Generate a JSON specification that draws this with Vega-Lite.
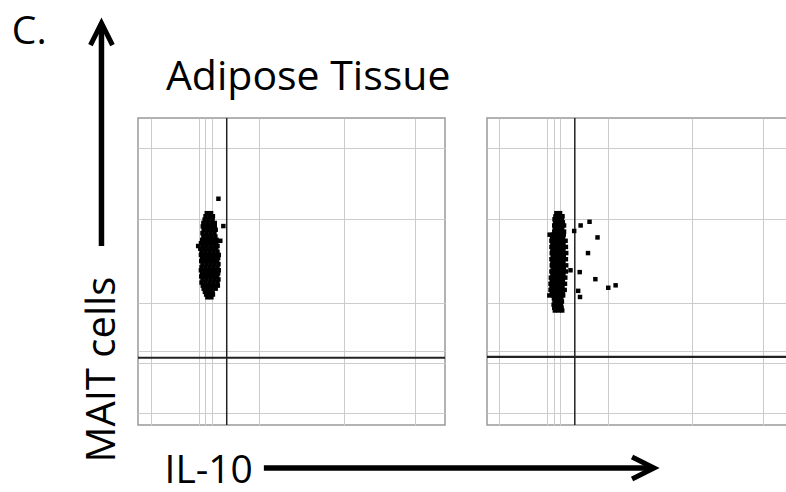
{
  "$schema": "https://vega.github.io/schema/vega-lite/v6.json",
  "background": "white",
  "padding": {"left": 11, "top": 12, "right": 0, "bottom": 3},
  "config": {
    "view": {"stroke": "#999999", "strokeWidth": 1.5},
    "font": "Open Sans",
    "axis": {"gridColor": "#cccccc", "gridWidth": 1, "gridOpacity": 1, "labels": false, "ticks": false, "domain": false, "titleFont": "Open Sans", "titleFontSize": 40, "titleFontWeight": "normal", "titleColor": "black"}
  },
  "datasets": {
    "left": [
      {"x":224,"y":690},{"x":238,"y":690},
      {"x":220,"y":680},{"x":233,"y":680},{"x":244,"y":680},
      {"x":217,"y":669},{"x":230,"y":669},{"x":243,"y":669},
      {"x":213,"y":658},{"x":226,"y":658},{"x":239,"y":658},{"x":250,"y":658},
      {"x":211,"y":647},{"x":224,"y":647},{"x":237,"y":647},{"x":250,"y":647},
      {"x":214,"y":636},{"x":227,"y":636},{"x":240,"y":636},{"x":253,"y":636},
      {"x":210,"y":625},{"x":223,"y":625},{"x":236,"y":625},{"x":249,"y":625},
      {"x":213,"y":614},{"x":226,"y":614},{"x":239,"y":614},{"x":252,"y":614},
      {"x":209,"y":603},{"x":222,"y":603},{"x":235,"y":603},{"x":248,"y":603},{"x":256,"y":603},
      {"x":205,"y":592},{"x":218,"y":592},{"x":231,"y":592},{"x":244,"y":592},{"x":255,"y":592},
      {"x":196,"y":583},{"x":210,"y":583},{"x":223,"y":583},{"x":236,"y":583},{"x":249,"y":583},{"x":259,"y":583},
      {"x":203,"y":574},{"x":216,"y":574},{"x":229,"y":574},{"x":242,"y":574},{"x":255,"y":574},
      {"x":207,"y":564},{"x":220,"y":564},{"x":233,"y":564},{"x":246,"y":564},{"x":259,"y":564},
      {"x":205,"y":554},{"x":218,"y":554},{"x":231,"y":554},{"x":244,"y":554},{"x":257,"y":554},{"x":263,"y":554},
      {"x":209,"y":544},{"x":222,"y":544},{"x":235,"y":544},{"x":248,"y":544},{"x":261,"y":544},
      {"x":206,"y":534},{"x":219,"y":534},{"x":232,"y":534},{"x":245,"y":534},{"x":258,"y":534},
      {"x":210,"y":524},{"x":223,"y":524},{"x":236,"y":524},{"x":249,"y":524},{"x":262,"y":524},
      {"x":207,"y":514},{"x":220,"y":514},{"x":233,"y":514},{"x":246,"y":514},{"x":259,"y":514},
      {"x":205,"y":504},{"x":218,"y":504},{"x":231,"y":504},{"x":244,"y":504},{"x":257,"y":504},{"x":263,"y":504},
      {"x":209,"y":494},{"x":222,"y":494},{"x":235,"y":494},{"x":248,"y":494},{"x":261,"y":494},
      {"x":206,"y":484},{"x":219,"y":484},{"x":232,"y":484},{"x":245,"y":484},{"x":258,"y":484},
      {"x":210,"y":474},{"x":223,"y":474},{"x":236,"y":474},{"x":249,"y":474},{"x":262,"y":474},
      {"x":207,"y":464},{"x":220,"y":464},{"x":233,"y":464},{"x":246,"y":464},{"x":259,"y":464},
      {"x":211,"y":454},{"x":224,"y":454},{"x":237,"y":454},{"x":250,"y":454},{"x":260,"y":454},
      {"x":214,"y":444},{"x":227,"y":444},{"x":240,"y":444},{"x":253,"y":444},
      {"x":218,"y":434},{"x":231,"y":434},{"x":243,"y":434},
      {"x":222,"y":425},{"x":235,"y":425},{"x":244,"y":425},
      {"x":226,"y":416},{"x":239,"y":416},
      {"x":262,"y":737},{"x":278,"y":648},{"x":268,"y":600}
    ],
    "right": [
      {"x":226,"y":690},{"x":238,"y":690},
      {"x":223,"y":680},{"x":235,"y":680},{"x":246,"y":680},
      {"x":220,"y":670},{"x":232,"y":670},{"x":244,"y":670},
      {"x":222,"y":660},{"x":234,"y":660},{"x":247,"y":660},
      {"x":219,"y":650},{"x":231,"y":650},{"x":243,"y":650},{"x":251,"y":650},
      {"x":221,"y":640},{"x":233,"y":640},{"x":245,"y":640},
      {"x":219,"y":630},{"x":231,"y":630},{"x":243,"y":630},{"x":251,"y":630},
      {"x":204,"y":620},{"x":215,"y":620},{"x":227,"y":620},{"x":239,"y":620},{"x":250,"y":620},
      {"x":212,"y":610},{"x":224,"y":610},{"x":236,"y":610},{"x":248,"y":610},
      {"x":210,"y":600},{"x":222,"y":600},{"x":234,"y":600},{"x":246,"y":600},{"x":256,"y":600},
      {"x":213,"y":590},{"x":225,"y":590},{"x":237,"y":590},{"x":249,"y":590},
      {"x":210,"y":580},{"x":222,"y":580},{"x":234,"y":580},{"x":246,"y":580},{"x":257,"y":580},
      {"x":213,"y":570},{"x":225,"y":570},{"x":237,"y":570},{"x":249,"y":570},
      {"x":211,"y":560},{"x":223,"y":560},{"x":235,"y":560},{"x":247,"y":560},{"x":258,"y":560},
      {"x":214,"y":550},{"x":226,"y":550},{"x":238,"y":550},{"x":250,"y":550},
      {"x":210,"y":540},{"x":222,"y":540},{"x":234,"y":540},{"x":246,"y":540},{"x":257,"y":540},
      {"x":213,"y":530},{"x":225,"y":530},{"x":237,"y":530},{"x":249,"y":530},
      {"x":211,"y":520},{"x":223,"y":520},{"x":235,"y":520},{"x":247,"y":520},{"x":258,"y":520},
      {"x":214,"y":510},{"x":226,"y":510},{"x":238,"y":510},{"x":250,"y":510},
      {"x":210,"y":500},{"x":222,"y":500},{"x":234,"y":500},{"x":246,"y":500},{"x":257,"y":500},
      {"x":213,"y":490},{"x":225,"y":490},{"x":237,"y":490},{"x":249,"y":490},
      {"x":208,"y":480},{"x":220,"y":480},{"x":232,"y":480},{"x":244,"y":480},{"x":255,"y":480},
      {"x":211,"y":470},{"x":223,"y":470},{"x":235,"y":470},{"x":247,"y":470},
      {"x":207,"y":460},{"x":219,"y":460},{"x":231,"y":460},{"x":243,"y":460},{"x":254,"y":460},
      {"x":210,"y":450},{"x":222,"y":450},{"x":234,"y":450},{"x":246,"y":450},
      {"x":207,"y":440},{"x":219,"y":440},{"x":231,"y":440},{"x":243,"y":440},{"x":253,"y":440},
      {"x":211,"y":430},{"x":223,"y":430},{"x":235,"y":430},{"x":247,"y":430},
      {"x":203,"y":422},{"x":215,"y":422},{"x":227,"y":422},{"x":239,"y":422},{"x":248,"y":422},
      {"x":218,"y":412},{"x":230,"y":412},{"x":242,"y":412},
      {"x":220,"y":402},{"x":232,"y":402},{"x":244,"y":402},
      {"x":217,"y":392},{"x":229,"y":392},{"x":241,"y":392},
      {"x":219,"y":382},{"x":231,"y":382},{"x":243,"y":382},
      {"x":221,"y":373},{"x":233,"y":373},{"x":245,"y":373},
      {"x":305,"y":650},{"x":334,"y":662},{"x":284,"y":632},{"x":360,"y":611},
      {"x":329,"y":560},{"x":302,"y":498},{"x":353,"y":475},{"x":395,"y":447},
      {"x":419,"y":455},{"x":297,"y":437},{"x":303,"y":417},{"x":272,"y":504}
    ]
  },
  "bounds": "flush",
  "spacing": 42,
  "hconcat": [
    {
      "width": 307,
      "height": 307,
      "layer": [
        {
          "data": {"values": [{}]},
          "mark": {"type": "rule", "color": "#222222", "strokeWidth": 1.5},
          "encoding": {"x": {"datum": 289, "type": "quantitative"}}
        },
        {
          "data": {"values": [{}]},
          "mark": {"type": "rule", "color": "#222222", "strokeWidth": 2.2},
          "encoding": {"y": {"datum": 219, "type": "quantitative"}}
        },
        {
          "data": {"name": "left"},
          "mark": {"type": "square", "size": 20, "color": "black", "opacity": 1},
          "encoding": {
            "x": {"field": "x", "type": "quantitative", "scale": {"domain": [0, 1000], "nice": false, "zero": false},
                  "axis": {"values": [42, 199, 218, 241, 394, 670, 901], "grid": true, "title": "IL-10", "titleAngle": 0, "titleAlign": "left", "titleBaseline": "alphabetic", "titleX": 26, "titleY": 57, "titleFontSize": 39}},
            "y": {"field": "y", "type": "quantitative", "scale": {"domain": [0, 1000], "nice": false, "zero": false},
                  "axis": {"values": [40, 203, 241, 398, 672, 903], "grid": true, "title": "MAIT cells", "titleAngle": 270, "titleAlign": "left", "titleBaseline": "alphabetic", "titleX": -24, "titleY": 344}}
          }
        },
        {
          "data": {"values": [{}]},
          "mark": {"type": "rule", "color": "black", "strokeWidth": 5.5},
          "encoding": {"x": {"datum": -119, "type": "quantitative"}, "y": {"datum": 583, "type": "quantitative"}, "y2": {"datum": 1300}}
        },
        {
          "data": {"values": [{}]},
          "mark": {"type": "point", "shape": "M-1,2L0,0L1,2", "size": 484, "filled": false, "color": "black", "strokeWidth": 5, "opacity": 1, "strokeJoin": "miter"},
          "encoding": {"x": {"datum": -119, "type": "quantitative"}, "y": {"datum": 1309, "type": "quantitative"}}
        },
        {
          "data": {"values": [{}]},
          "mark": {"type": "rule", "color": "black", "strokeWidth": 5.5},
          "encoding": {"x": {"datum": 410, "type": "quantitative"}, "x2": {"datum": 1675}, "y": {"datum": -140, "type": "quantitative"}}
        },
        {
          "data": {"values": [{}]},
          "mark": {"type": "point", "shape": "M-2,-1L0,0L-2,1", "size": 484, "filled": false, "color": "black", "strokeWidth": 5, "opacity": 1, "strokeJoin": "miter"},
          "encoding": {"x": {"datum": 1681, "type": "quantitative"}, "y": {"datum": -140, "type": "quantitative"}}
        },
        {
          "data": {"values": [{}]},
          "mark": {"type": "text", "text": "C.", "align": "left", "baseline": "alphabetic", "font": "Open Sans", "fontSize": 39, "color": "black"},
          "encoding": {"x": {"datum": -411, "type": "quantitative"}, "y": {"datum": 1241, "type": "quantitative"}}
        },
        {
          "data": {"values": [{}]},
          "mark": {"type": "text", "text": "Adipose Tissue", "align": "left", "baseline": "alphabetic", "font": "Open Sans", "fontSize": 41, "color": "black"},
          "encoding": {"x": {"datum": 91, "type": "quantitative"}, "y": {"datum": 1090, "type": "quantitative"}}
        }
      ]
    },
    {
      "width": 301,
      "height": 307,
      "layer": [
        {
          "data": {"values": [{}]},
          "mark": {"type": "rule", "color": "#222222", "strokeWidth": 1.5},
          "encoding": {"x": {"datum": 286, "type": "quantitative"}}
        },
        {
          "data": {"values": [{}]},
          "mark": {"type": "rule", "color": "#222222", "strokeWidth": 2.2},
          "encoding": {"y": {"datum": 222, "type": "quantitative"}}
        },
        {
          "data": {"name": "right"},
          "mark": {"type": "square", "size": 20, "color": "black", "opacity": 1},
          "encoding": {
            "x": {"field": "x", "type": "quantitative", "scale": {"domain": [0, 980.5], "nice": false, "zero": false},
                  "axis": {"values": [38, 196, 217, 238, 394, 668, 900], "grid": true, "title": null}},
            "y": {"field": "y", "type": "quantitative", "scale": {"domain": [0, 1000], "nice": false, "zero": false},
                  "axis": {"values": [40, 203, 241, 398, 672, 903], "grid": true, "title": null}}
          }
        }
      ]
    }
  ]
}
